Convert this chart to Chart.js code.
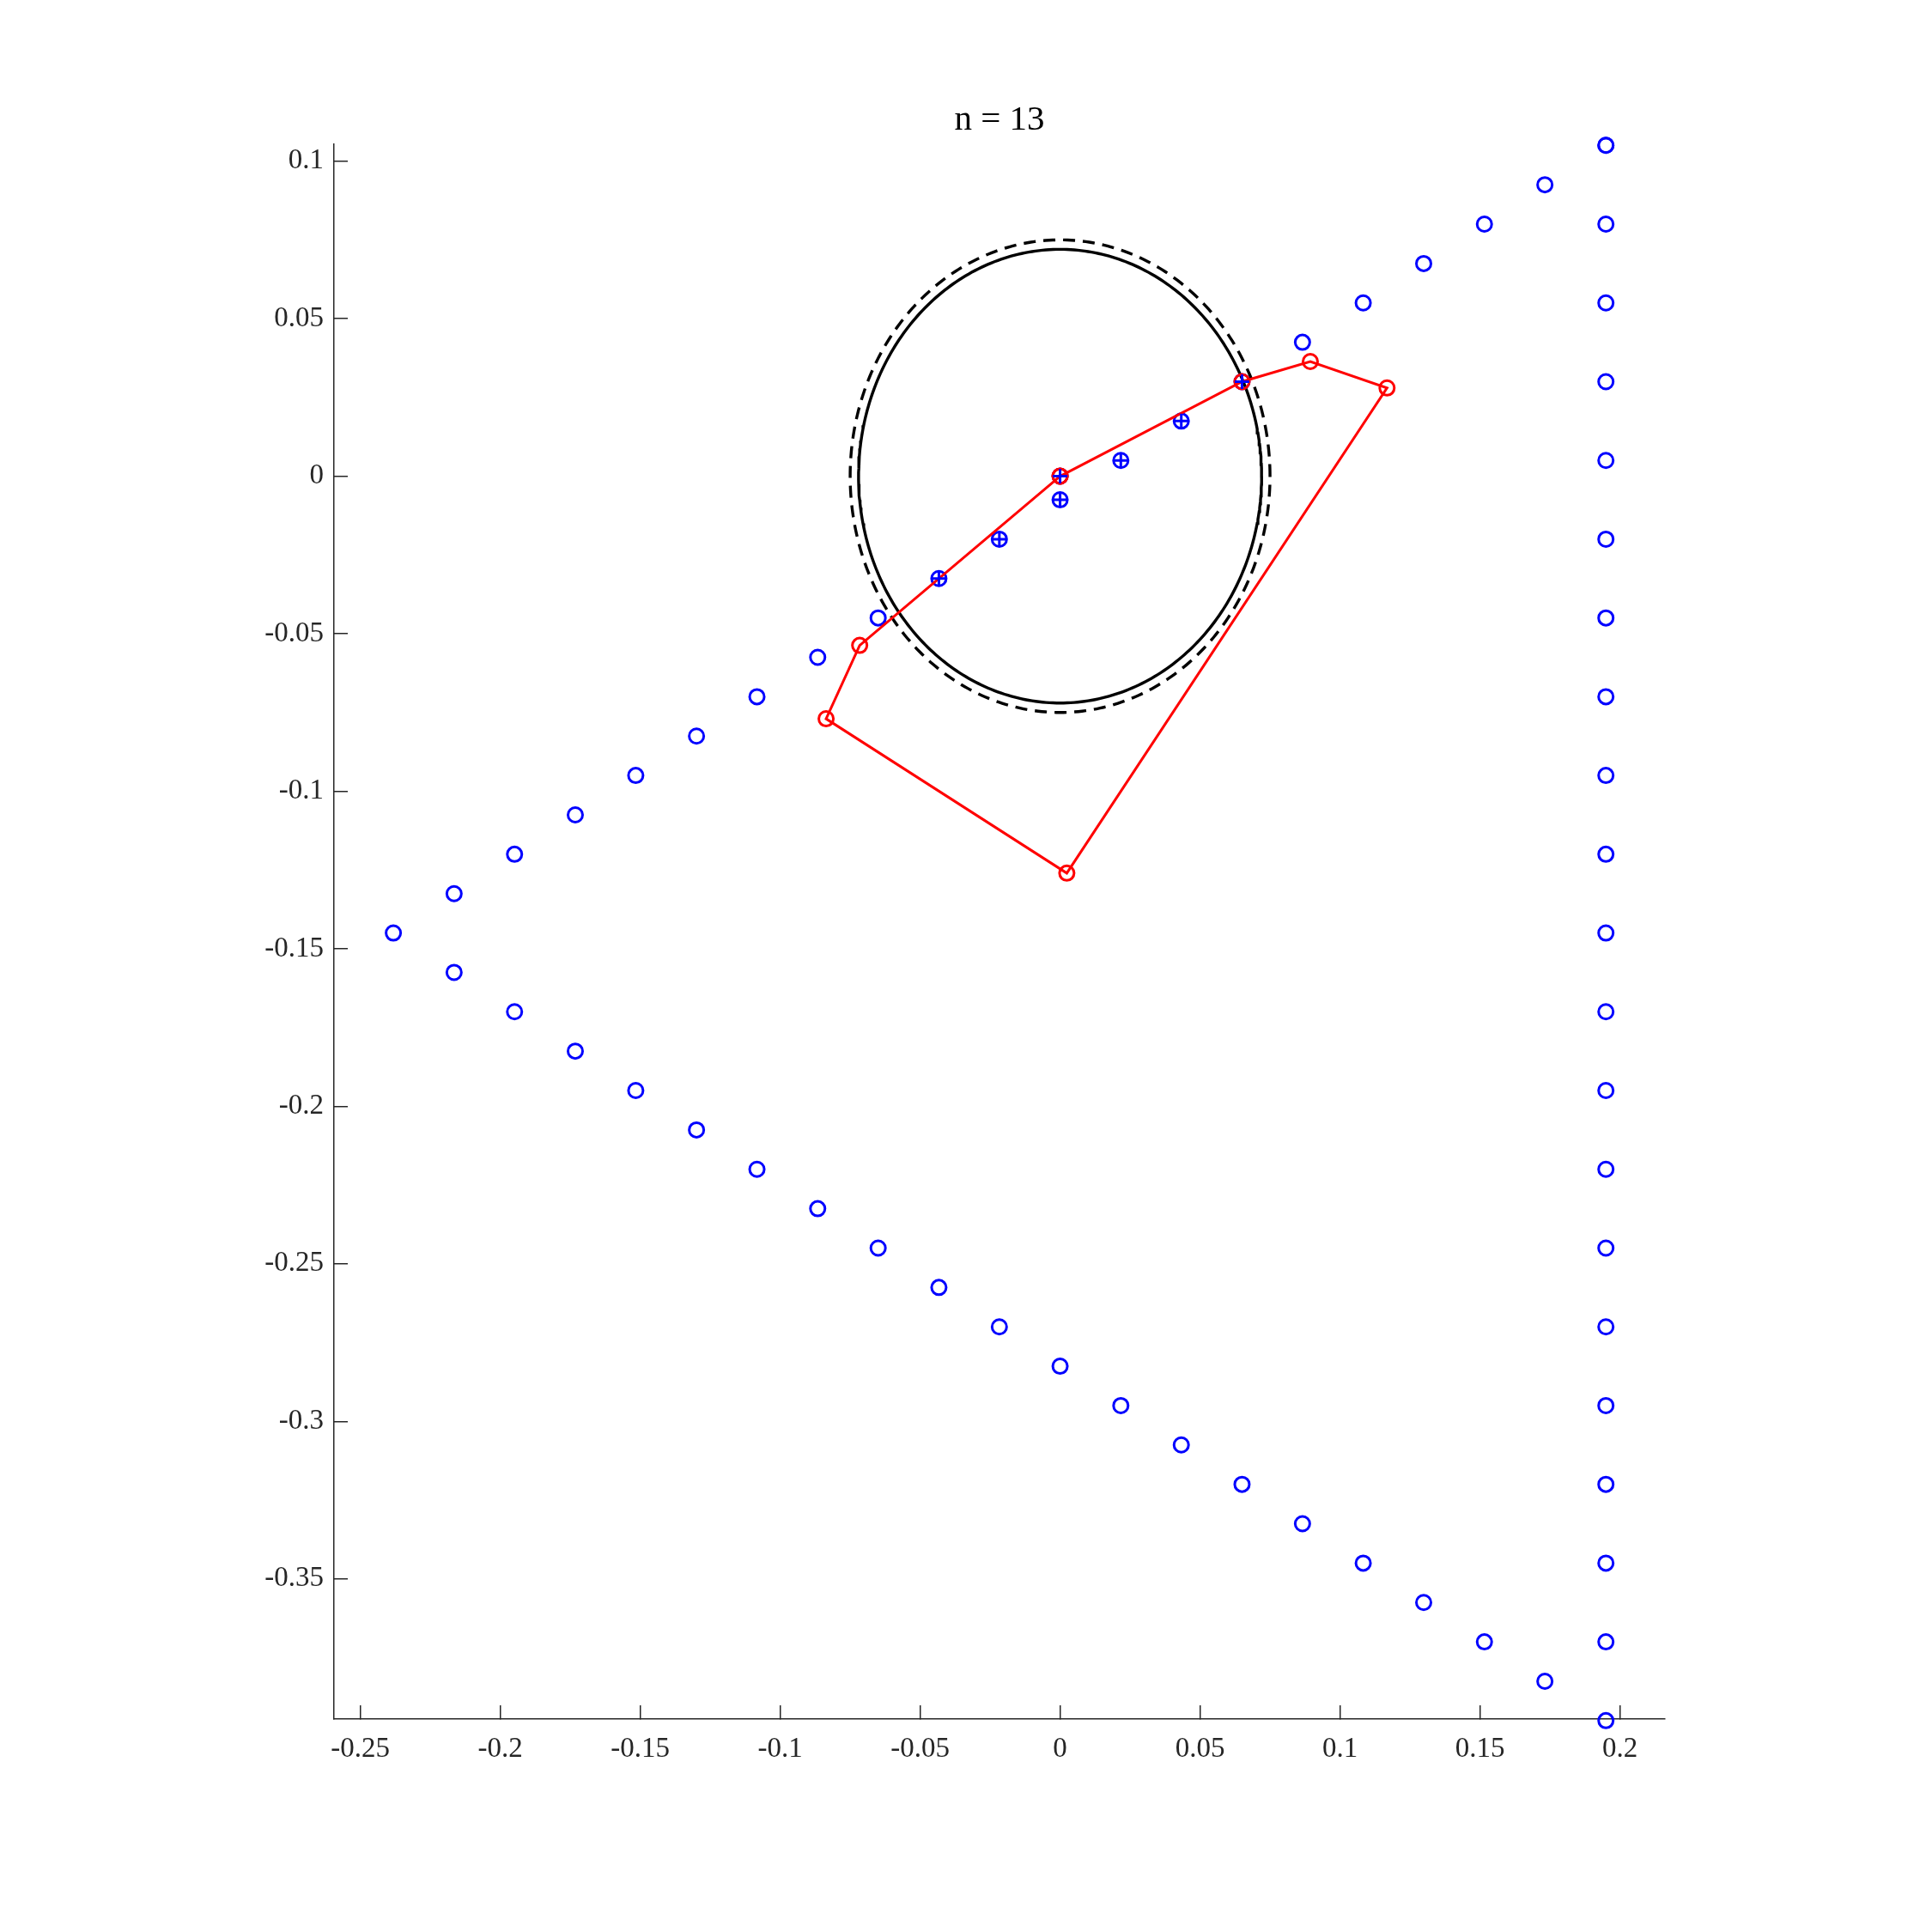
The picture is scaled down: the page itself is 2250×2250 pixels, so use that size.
<!DOCTYPE html>
<html lang="en">
<head>
  <meta charset="UTF-8">
  <title>n = 13</title>
  <script src="https://cdn.jsdelivr.net/npm/chart.js"></script>
  <style>
    body { margin: 0; background: #fff; }
    canvas { display: block; }
  </style>
</head>
<body>
  <canvas id="chart" width="2250" height="2250"></canvas>
  <script>
    // Grid points along the upper edge of the triangle
    const upperX = [-0.2382, -0.2165, -0.1949, -0.1732, -0.1516, -0.1299, -0.1083, -0.0866, -0.0650, -0.0433, -0.0217,
      0, 0.0217, 0.0433, 0.0650, 0.0866, 0.1083, 0.1299, 0.1516, 0.1732, 0.1950];
    const upperY = [-0.145, -0.1325, -0.12, -0.1075, -0.095, -0.0825, -0.07, -0.0575, -0.045, -0.0325, -0.02,
      -0.0075, 0.005, 0.0175, 0.03, 0.0425, 0.055, 0.0675, 0.08, 0.0925, 0.105];
    // lower edge
    const lowerX = [-0.2165, -0.1949, -0.1732, -0.1516, -0.1299, -0.1083, -0.0866, -0.0650, -0.0433, -0.0217,
      0, 0.0217, 0.0433, 0.0650, 0.0866, 0.1083, 0.1299, 0.1516, 0.1732];
    const lowerY = [-0.1575, -0.17, -0.1825, -0.195, -0.2075, -0.22, -0.2325, -0.245, -0.2575, -0.27,
      -0.2825, -0.295, -0.3075, -0.32, -0.3325, -0.345, -0.3575, -0.37, -0.3825];
    // right edge (x = 0.195)
    const rightX = 0.195;
    const rightY = [0.105, 0.08, 0.055, 0.03, 0.005, -0.02, -0.045, -0.07, -0.095, -0.12, -0.145,
      -0.17, -0.195, -0.22, -0.245, -0.27, -0.295, -0.32, -0.345, -0.37, -0.395];

    // points marked with a plus
    const plusX = [-0.0433, -0.0217, 0, 0.0217, 0.0433, 0.0650, 0];
    const plusY = [-0.0325, -0.02, -0.0075, 0.005, 0.0175, 0.03, 0];

    // red polygon (closed)
    const polyX = [0, 0.065, 0.0894, 0.1168, 0.0024, -0.0836, -0.0716, 0];
    const polyY = [0, 0.03, 0.0364, 0.028, -0.126, -0.077, -0.0537, 0];

    // circles
    const circleCenter = [0, 0];
    const solidRadius = 0.072;
    const dashedRadius = 0.075;

    const xTicks = [-0.25, -0.2, -0.15, -0.1, -0.05, 0, 0.05, 0.1, 0.15, 0.2];
    const yTicks = [-0.35, -0.3, -0.25, -0.2, -0.15, -0.1, -0.05, 0, 0.05, 0.1];

    const FONT = "'Liberation Serif', 'Times New Roman', serif";
    const AXIS_COLOR = '#262626';

    function zip(xs, ys) {
      return xs.map((x, i) => ({ x: x, y: ys[i] }));
    }

    function circlePoints(r) {
      const pts = [];
      for (let i = 0; i <= 360; i++) {
        const t = i * Math.PI / 180;
        pts.push({ x: circleCenter[0] + r * Math.cos(t), y: circleCenter[1] + r * Math.sin(t) });
      }
      return pts;
    }

    const bluePoints = zip(upperX, upperY)
      .concat(zip(lowerX, lowerY))
      .concat(rightY.map(y => ({ x: rightX, y: y })))
      .concat([{ x: 0, y: 0 }]);

    const fmt = v => Number(v.toFixed(2)).toString();

    new Chart(document.getElementById('chart'), {
      type: 'scatter',
      data: {
        datasets: [
          {
            label: 'plus',
            data: zip(plusX, plusY),
            pointStyle: 'cross',
            pointRadius: 8.5,
            pointBorderWidth: 3,
            borderColor: '#0000ff',
            showLine: false,
            clip: false,
            order: 1
          },
          {
            label: 'polygon',
            data: zip(polyX, polyY),
            showLine: true,
            borderColor: '#ff0000',
            borderWidth: 3,
            pointRadius: 8.5,
            pointBorderWidth: 3,
            pointBackgroundColor: 'rgba(0,0,0,0)',
            pointBorderColor: '#ff0000',
            tension: 0,
            clip: false,
            order: 2
          },
          {
            label: 'grid',
            data: bluePoints,
            showLine: false,
            pointRadius: 8.5,
            pointBorderWidth: 3,
            pointBackgroundColor: 'rgba(0,0,0,0)',
            pointBorderColor: '#0000ff',
            clip: false,
            order: 3
          },
          {
            label: 'solid circle',
            data: circlePoints(solidRadius),
            showLine: true,
            borderColor: '#000000',
            borderWidth: 3.4,
            pointRadius: 0,
            clip: false,
            order: 4
          },
          {
            label: 'dashed circle',
            data: circlePoints(dashedRadius),
            showLine: true,
            borderColor: '#000000',
            borderWidth: 3.4,
            borderDash: [14, 9],
            pointRadius: 0,
            clip: false,
            order: 5
          }
        ]
      },
      options: {
        responsive: false,
        animation: false,
        layout: { padding: { left: 0, top: 0, right: 311, bottom: 0 } },
        plugins: {
          legend: { display: false },
          tooltip: { enabled: false },
          title: {
            display: true,
            text: 'n = 13',
            fullSize: false,
            color: '#000',
            font: { family: FONT, size: 41, weight: 'normal', lineHeight: 1.2 },
            padding: { top: 116, bottom: 3 }
          }
        },
        scales: {
          x: {
            type: 'linear',
            min: -0.2594,
            max: 0.2161,
            afterFit: s => { s.height = 248; },
            afterBuildTicks: s => { s.ticks = xTicks.map(v => ({ value: v })); },
            grid: { drawOnChartArea: false, drawTicks: true, tickLength: -16, color: AXIS_COLOR, lineWidth: 1.5 },
            border: { display: true, color: AXIS_COLOR, width: 1.5 },
            ticks: {
              callback: fmt,
              color: AXIS_COLOR,
              padding: 32,
              maxRotation: 0,
              autoSkip: false,
              font: { family: FONT, size: 33 }
            }
          },
          y: {
            type: 'linear',
            min: -0.3945,
            max: 0.1053,
            afterFit: s => { s.width = 389; },
            afterBuildTicks: s => { s.ticks = yTicks.map(v => ({ value: v })); },
            grid: { drawOnChartArea: false, drawTicks: true, tickLength: -16, color: AXIS_COLOR, lineWidth: 1.5 },
            border: { display: true, color: AXIS_COLOR, width: 1.5 },
            ticks: {
              callback: fmt,
              color: AXIS_COLOR,
              padding: 28,
              autoSkip: false,
              font: { family: FONT, size: 33 }
            }
          }
        }
      }
    });
  </script>
</body>
</html>
